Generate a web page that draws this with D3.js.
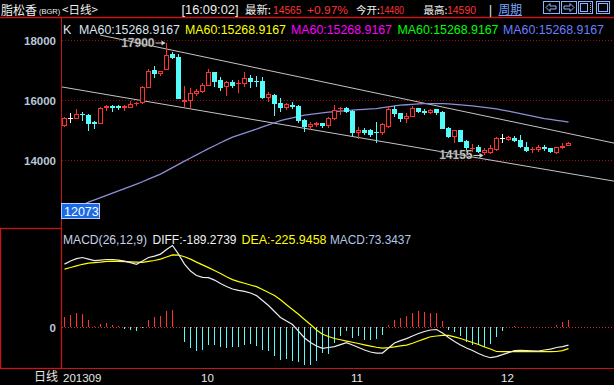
<!DOCTYPE html>
<html><head><meta charset="utf-8">
<script src="https://cdn.jsdelivr.net/npm/d3@7"></script>
<style>html,body{margin:0;padding:0;background:#000;overflow:hidden}svg{display:block}</style>
</head><body><svg id="c" width="614" height="385"></svg>
<script>
// ---------- data ----------
const openP  = [15143,15390,15357,15533,15500,15257,15190,15723,15800,15790,15743,15743,15857,15890,16410,17000,16877,17010,17523,17433,15923,15977,16200,16277,16477,16923,16667,16423,16600,16533,16533,16723,16633,16643,16077,16167,15910,15743,15833,15810,15333,15100,15177,15223,15133,15367,15690,15743,15633,14890,15000,15000,14933,14890,15110,15700,15557,15357,15443,15723,15633,15577,15690,15590,15077,14777,15000,14633,14377,14443,14223,14223,14333,14723,14667,14743,14667,14443,14333,14333,14443,14390,14223,14410,14480];
const highP  = [15420,15567,15700,15590,15520,15300,15760,15833,15833,15823,15833,15967,15933,16457,17023,17133,16967,17900,17590,17533,16467,16390,16357,16557,17033,16923,16757,16643,16667,16667,16923,16833,16800,16777,16257,16200,16077,15910,15943,15833,15367,15267,15277,15223,15423,15833,15757,15777,15667,15110,15077,15033,15257,15243,15777,15810,15577,15557,15800,15733,15690,15700,15710,15643,15110,15000,15000,14667,14523,14500,14390,14500,14777,14857,14800,14800,14833,14610,14443,14500,14500,14410,14440,14557,14590];
const lowP   = [15100,15223,15357,15300,14977,15033,15190,15633,15610,15667,15633,15723,15800,15857,16390,16723,16790,17010,17367,16033,15777,15700,16133,16223,16477,16443,16300,16143,16410,16243,16443,16410,16443,16023,15923,15477,15610,15667,15690,15223,14943,15000,15110,15077,15057,15333,15500,15557,14800,14690,14833,14777,14577,14833,15057,15443,15257,15223,15423,15557,15500,15533,15500,15033,14723,14577,14610,14277,14277,14243,14155,14200,14310,14577,14633,14600,14390,14257,14243,14277,14300,14243,14200,14380,14460];
const closeP = [15390,15390,15533,15500,15210,15190,15743,15810,15743,15733,15790,15877,15910,16443,16967,16857,16967,17500,17390,16033,16000,16223,16300,16500,16923,16610,16410,16590,16467,16577,16723,16590,16600,16077,16190,15867,15723,15857,15777,15300,15110,15200,15223,15133,15390,15667,15723,15590,14890,15000,14890,14833,14890,15190,15700,15533,15357,15467,15743,15610,15577,15667,15557,15033,14777,15000,14610,14390,14410,14277,14333,14410,14723,14723,14757,14633,14443,14300,14377,14443,14357,14277,14423,14467,14565];
const ma60   = [12233,12320,12410,12500,12600,12675,12750,12825,12900,12975,13050,13125,13200,13280,13365,13450,13533,13640,13750,13860,13967,14070,14175,14280,14383,14480,14580,14675,14767,14835,14900,14967,15033,15105,15175,15245,15317,15365,15410,15455,15500,15525,15550,15575,15600,15617,15633,15650,15667,15680,15692,15705,15717,15745,15775,15805,15833,15845,15858,15870,15883,15885,15884,15880,15873,15858,15842,15825,15807,15782,15757,15732,15707,15668,15630,15590,15550,15508,15466,15425,15383,15355,15325,15297,15269];
const diffV  = [661,693,719,730,714,698,703,709,709,703,693,677,658,693,730,745,766,814,856,766,661,588,541,521,519,493,457,425,399,385,375,357,330,278,226,163,100,63,26,-42,-115,-163,-199,-224,-215,-205,-184,-163,-189,-215,-241,-262,-273,-273,-220,-168,-142,-121,-94,-68,-47,-31,-26,-63,-110,-152,-189,-220,-247,-278,-304,-322,-310,-289,-268,-247,-244,-247,-249,-252,-241,-231,-215,-205,-189.27];
const deaV   = [609,625,643,659,671,677,682,689,692,690,687,685,682,679,689,699,713,735,758,756,738,713,682,653,624,593,562,529,498,477,460,442,424,394,362,331,287,235,185,134,80,27,-31,-76,-99,-120,-133,-147,-160,-173,-187,-200,-212,-221,-216,-208,-198,-189,-170,-147,-124,-102,-94,-88,-87,-104,-120,-141,-162,-183,-209,-231,-257,-259,-259,-259,-259,-259,-259,-259,-259,-259,-257,-247,-225.95];
const macdV  = [105,123,147,140,77,7,35,42,24,7,-18,-28,-45,-5,77,105,119,165,182,-3,-161,-221,-255,-245,-186,-186,-213,-221,-213,-210,-186,-179,-203,-238,-255,-301,-343,-336,-360,-371,-402,-396,-360,-273,-280,-168,-91,-45,-116,-91,-133,-133,-126,-81,24,77,95,112,147,165,154,147,147,60,-28,-56,-98,-161,-186,-186,-210,-175,-108,-45,-3,14,3,3,2,2,3,5,24,49,73.34];
const priceTicks = [18000,16000,14000];
const monthIdx = [0,23,48,73];
const monthLabels = ["201309","10","11","12"];
const upperTrend = [[5.9,18167],[91.6,14567]];
const lowerTrend = [[-0.6,16443],[91.6,13300]];
const maLabelTexts = ["MA60:15268.9167","MA60:15268.9167","MA60:15268.9167","MA60:15268.9167","MA60:15268.9167"];
const maLabelColors = ["#dce4f0","#ffff00","#ff00ff","#00ff00","#6e7dff"];
const hiMark = {i:17, v:17900}, loMark = {i:70, v:14155};
const axisMin = 12073;

// ---------- setup ----------
const RED="#ff3232", CYAN="#54fcfc", WHITE="#ffffff", FRAME="#c81414";
const svg = d3.select("#c").style("background","#000");
svg.append("rect").attr("width",614).attr("height",385).attr("fill","#000");
const n = closeP.length;
const x = d3.scaleLinear().domain([0,84]).range([64.5,568.5]);
const yM = d3.scaleLinear().domain([12073,18733]).range([218,18]);
const yD = d3.scaleLinear().domain([-430,1040]).range([368,228]);
const defs = svg.append("defs");
defs.append("clipPath").attr("id","cm").append("rect").attr("x",62).attr("y",18).attr("width",552).attr("height",210);
defs.append("clipPath").attr("id","cd").append("rect").attr("x",62).attr("y",229).attr("width",552).attr("height",139);
const sans = "'Liberation Sans', Arial, sans-serif";
const cjk = "'Noto Sans CJK SC', sans-serif";

// frame lines
svg.append("line").attr("x1",0).attr("x2",614).attr("y1",17.5).attr("y2",17.5).attr("stroke",FRAME).attr("stroke-width",1.5);
svg.append("line").attr("x1",61.5).attr("x2",61.5).attr("y1",17).attr("y2",368).attr("stroke",FRAME);
svg.append("rect").attr("x",0.5).attr("y",228.5).attr("width",61).attr("height",140).attr("fill","none").attr("stroke",FRAME).attr("stroke-width",1.3);
svg.append("line").attr("x1",0).attr("x2",614).attr("y1",368.5).attr("y2",368.5).attr("stroke",FRAME);

// grid lines (dotted)
svg.append("g").selectAll("line").data(priceTicks).join("line")
  .attr("x1",62).attr("x2",614).attr("y1",d=>Math.round(yM(d))+0.5).attr("y2",d=>Math.round(yM(d))+0.5)
  .attr("stroke","#a01010").attr("stroke-dasharray","1,2");
svg.append("line").attr("x1",62).attr("x2",614).attr("y1",Math.round(yD(0))+0.5).attr("y2",Math.round(yD(0))+0.5)
  .attr("stroke","#d03030").attr("stroke-dasharray","1,2");

// y labels
svg.append("g").selectAll("text").data(priceTicks).join("text")
  .attr("x",56).attr("y",d=>yM(d)+4.5).attr("text-anchor","end")
  .attr("font-family",sans).attr("font-weight","bold").attr("font-size",11.5).attr("fill","#b8c6d8").text(d=>d);
svg.append("text").attr("x",56).attr("y",yD(0)+4.5).attr("text-anchor","end")
  .attr("font-family",sans).attr("font-weight","bold").attr("font-size",11.5).attr("fill","#b8c6d8").text("0");

// main panel
const gm = svg.append("g").attr("clip-path","url(#cm)");
const lineT = d3.line().x(d=>x(d[0])).y(d=>yM(d[1]));
[upperTrend, lowerTrend].forEach(t=>{
  gm.append("path").attr("d",lineT(t)).attr("fill","none").attr("stroke","#c4c4c4").attr("stroke-width",1);
});
gm.append("path").attr("d", d3.line().x((d,i)=>x(i)).y(d=>yM(d))(ma60))
  .attr("fill","none").attr("stroke","#8c8ed6").attr("stroke-width",1.3);

const idx = d3.range(n);
const cg = gm.append("g").attr("shape-rendering","crispEdges");
idx.forEach(i=>{
  const o=openP[i], c=closeP[i];
  const cx = Math.floor(x(i))+0.5;
  const yo=yM(o), yc=yM(c), yh=Math.round(yM(highP[i])), yl=Math.round(yM(lowP[i]));
  const col = c>o ? RED : (c<o ? CYAN : WHITE);
  const top=Math.round(Math.min(yo,yc)), bot=Math.round(Math.max(yo,yc));
  if (bot-top < 2) {
    cg.append("line").attr("x1",cx).attr("x2",cx).attr("y1",yh).attr("y2",yl).attr("stroke",col);
    cg.append("line").attr("x1",cx-2.5).attr("x2",cx+2.5).attr("y1",top+0.5).attr("y2",top+0.5).attr("stroke",col);
  } else if (c>o) {
    cg.append("line").attr("x1",cx).attr("x2",cx).attr("y1",yh).attr("y2",top).attr("stroke",col);
    cg.append("line").attr("x1",cx).attr("x2",cx).attr("y1",bot).attr("y2",yl).attr("stroke",col);
    cg.append("rect").attr("x",cx-2).attr("y",top+0.5).attr("width",4).attr("height",bot-top-1)
      .attr("fill","#000").attr("stroke",col);
  } else {
    cg.append("line").attr("x1",cx).attr("x2",cx).attr("y1",yh).attr("y2",yl).attr("stroke",col);
    cg.append("rect").attr("x",cx-2.5).attr("y",top).attr("width",5).attr("height",bot-top).attr("fill",col);
  }
});

// high/low markers
function mark(m) {
  const px = x(m.i), py = yM(m.v);
  const g = svg.append("g");
  g.append("text").attr("x",px-12).attr("y",py+4).attr("text-anchor","end")
    .attr("font-family",sans).attr("font-weight","bold").attr("font-size",12)
    .attr("fill","#e4e4e4").attr("stroke","#404040").attr("stroke-width",0.4).text(m.v);
  g.append("line").attr("x1",px-11).attr("x2",px-2).attr("y1",py).attr("y2",py).attr("stroke","#d0d0d0");
  g.append("path").attr("d",`M${px-1},${py} l-4,-2.5 l0,5 z`).attr("fill","#d0d0d0");
}
mark(hiMark); mark(loMark);

// axis minimum box
svg.append("rect").attr("x",61.5).attr("y",203.5).attr("width",38).attr("height",15).attr("fill","#1a6ae6").attr("stroke","#b8ccff");
svg.append("text").attr("x",64).attr("y",216).attr("font-family",sans).attr("font-size",12.5).attr("fill","#fff").text(axisMin);

// main header labels
svg.append("text").attr("x",63).attr("y",34).attr("font-family",sans).attr("font-size",12.5).attr("fill","#dce4f0").text("K");
const maX = [79,185,291,397.5,503];
maLabelTexts.forEach((t,k)=>{
  svg.append("text").attr("x",maX[k]).attr("y",34).attr("font-family",sans).attr("font-size",12.5)
    .attr("textLength",101).attr("lengthAdjust","spacingAndGlyphs").attr("fill",maLabelColors[k]).text(t);
});

// MACD panel
const gd = svg.append("g").attr("clip-path","url(#cd)");
gd.append("g").attr("shape-rendering","crispEdges").selectAll("line").data(idx).join("line")
  .attr("x1",i=>Math.floor(x(i))+0.5).attr("x2",i=>Math.floor(x(i))+0.5)
  .attr("y1",Math.round(yD(0))).attr("y2",i=>Math.round(yD(macdV[i])))
  .attr("stroke",i=>macdV[i]>=0?RED:CYAN);
const lineD = d3.line().x((d,i)=>x(i)).y(d=>yD(d));
gd.append("path").attr("d",lineD(deaV)).attr("fill","none").attr("stroke","#ffff00").attr("stroke-width",1.2);
gd.append("path").attr("d",lineD(diffV)).attr("fill","none").attr("stroke","#ececec").attr("stroke-width",1.2);

const mh = [["MACD(26,12,9)",63,84,"#c8d2e6"],["DIFF:-189.2739",152.5,84,"#f0f0f0"],["DEA:-225.9458",241.5,85,"#ffff00"],["MACD:73.3437",330,81,"#b4c6e6"]];
mh.forEach(d=>{
  svg.append("text").attr("x",d[1]).attr("y",243.5).attr("font-family",sans).attr("font-size",12.5)
    .attr("textLength",d[2]).attr("lengthAdjust","spacingAndGlyphs").attr("fill",d[3]).text(d[0]);
});

// bottom axis
svg.append("text").attr("x",34).attr("y",381).attr("font-family",cjk).attr("font-size",12).attr("fill","#e6e6e6").text("日线");
svg.append("g").selectAll("text").data(monthIdx).join("text")
  .attr("x",d=>x(d)-1.5).attr("y",381.5).attr("font-family",sans).attr("font-size",11.5).attr("fill","#e6e6e6")
  .text((d,k)=>monthLabels[k]);

// top header
function ht(t,x0,w,col,font,fs,y){
  const e = svg.append("text").attr("x",x0).attr("y",y||14).attr("font-family",font).attr("font-size",fs)
    .attr("fill",col).text(t);
  if (w) e.attr("textLength",w).attr("lengthAdjust","spacingAndGlyphs");
  return e;
}
ht("脂松香",1,null,"#f0f0f0",cjk,12,14.5);
ht("(BGR)",39,null,"#f0f0f0",sans,7.5);
ht("<日线>",62,null,"#f0f0f0",cjk,11.5);
ht("[16:09:02]",181.5,57,"#f0f0f0",sans,12);
ht("最新:",245,26,"#f0f0f0",cjk,11);
ht("14565",273,28.5,RED,sans,11);
ht("+0.97%",307,41,RED,sans,11.5);
const q1 = svg.append("text").attr("y",14);
q1.append("tspan").attr("x",356).attr("font-family",cjk).attr("font-size",10.5).attr("fill","#f0f0f0").text("今开:");
q1.append("tspan").attr("x",379.5).attr("font-family",sans).attr("font-size",10.5).attr("fill",RED).attr("textLength",24.5).attr("lengthAdjust","spacingAndGlyphs").text("14480");
const q2 = svg.append("text").attr("y",14);
q2.append("tspan").attr("x",423.5).attr("font-family",cjk).attr("font-size",10.5).attr("fill","#f0f0f0").text("最高:");
q2.append("tspan").attr("x",447).attr("font-family",sans).attr("font-size",10.5).attr("fill",RED).attr("textLength",29).attr("lengthAdjust","spacingAndGlyphs").text("14590");
ht("|",489,3,"#f0f0f0",sans,12);
ht("周期",498.5,23.5,"#7aa6ff",cjk,12);
svg.append("line").attr("x1",498.5).attr("x2",522).attr("y1",15.5).attr("y2",15.5).attr("stroke","#7aa6ff");

// icons
const IC="#8ab4ff";
const ic = svg.append("g").attr("fill","none").attr("stroke",IC).attr("shape-rendering","crispEdges");
[[543.5,16],[561.5,15],[578.5,14],[596.5,13]].forEach(b=>ic.append("rect").attr("x",b[0]).attr("y",1.5).attr("width",b[1]).attr("height",12));
svg.append("path").attr("d","M546,7.5 l4,-4 v2.5 h6 v3 h-6 v2.5 z").attr("fill","none").attr("stroke",IC);
svg.append("path").attr("d","M574,7.5 l-4,-4 v2.5 h-6 v3 h6 v2.5 z").attr("fill","none").attr("stroke",IC);
svg.append("rect").attr("x",580.5).attr("y",3.5).attr("width",7).attr("height",8).attr("fill","none").attr("stroke",IC);
svg.append("line").attr("x1",590.5).attr("x2",590.5).attr("y1",3).attr("y2",12).attr("stroke",IC).attr("stroke-dasharray","1,1");
svg.append("rect").attr("x",598.5).attr("y",3.5).attr("width",9).attr("height",8).attr("fill","none").attr("stroke",IC);
</script></body></html>
